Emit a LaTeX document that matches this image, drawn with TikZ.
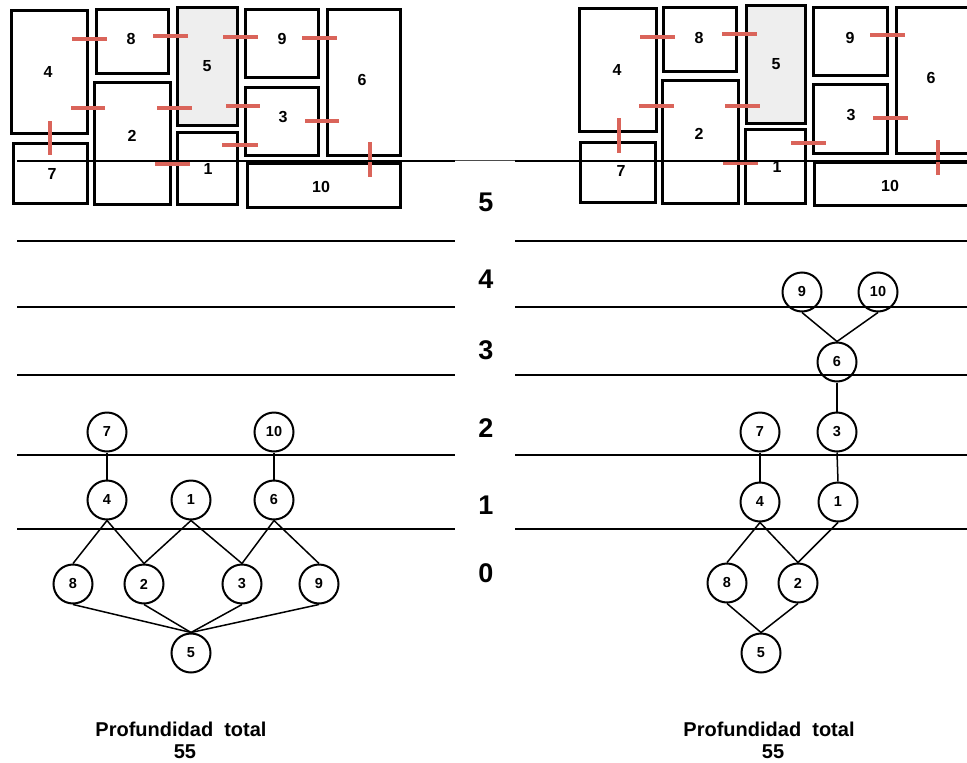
\documentclass[tikz,border=0pt]{standalone}
\usepackage{fontspec}
\setmainfont{Liberation Sans}
\definecolor{doorred}{RGB}{218,100,90}
\definecolor{roomgray}{RGB}{238,238,238}
\tikzset{
 room/.style={draw=black, line width=3pt, inner sep=0pt, outer sep=0pt},
 roomlbl/.style={font=\fontsize{16}{16}\selectfont\bfseries, inner sep=0pt},
 door/.style={draw=doorred, line width=4pt},
 level/.style={line width=2pt},
 tnode/.style={circle, draw, line width=2pt, minimum size=39pt, inner sep=0pt, font=\fontsize{14.5}{14.5}\selectfont\bfseries},
 tedge/.style={line width=1.5pt},
 lvlnum/.style={font=\fontsize{27}{27}\selectfont\bfseries, inner sep=0pt},
 total/.style={font=\fontsize{20}{20}\selectfont\bfseries, inner sep=0pt},
}
% style, name, x1, y1, x2, y2, lx, ly, label
\newcommand{\myroom}[9]{%
 \node[room,#1,minimum width={(#5-#3)*1pt},minimum height={(#6-#4)*1pt}] (#2) at ({(#3+#5)/2},{(#4+#6)/2}) {};
 \node[roomlbl] (#2l) at (#7,#8) {#9};}
\begin{document}
\begin{tikzpicture}[x=1pt,y=-1pt]
\useasboundingbox[fill=white] (0,0) rectangle (967,763);
% ---------- left plan ----------
\myroom{}{L4}{11}{10}{87}{133}{48}{72}{4}
\myroom{}{L8}{96}{9}{168}{73}{131}{39}{8}
\myroom{fill=roomgray}{L5}{177}{7}{237}{125}{207}{66}{5}
\myroom{}{L9}{245}{9}{318}{77}{282}{39}{9}
\myroom{}{L6}{327}{9}{400}{155}{362}{80}{6}
\myroom{}{L2}{94}{82}{170}{204}{132}{136}{2}
\myroom{}{L7}{13}{143}{87}{203}{52}{174}{7}
\myroom{}{L1}{177}{132}{237}{204}{208}{169}{1}
\myroom{}{L3}{245}{87}{318}{155}{283}{117}{3}
\myroom{}{L10}{247}{163}{400}{207}{321}{187}{10}
\draw[door] (72,39) -- (107,39);
\draw[door] (153,36) -- (188,36);
\draw[door] (223,37) -- (258,37);
\draw[door] (302,38) -- (337,38);
\draw[door] (71,108) -- (105,108);
\draw[door] (157,108) -- (192,108);
\draw[door] (226,106) -- (260,106);
\draw[door] (305,121) -- (339,121);
\draw[door] (222,145) -- (258,145);
\draw[door] (155,164) -- (190,164);
\draw[door] (50,121) -- (50,155);
\draw[door] (370,142) -- (370,177);
% ---------- right plan ----------
\myroom{}{R4}{579}{8}{656}{131}{617}{70}{4}
\myroom{}{R8}{663}{7}{736}{71}{699}{38}{8}
\myroom{fill=roomgray}{R5}{746}{5}{805}{123}{776}{64}{5}
\myroom{}{R9}{813}{7}{887}{75}{850}{38}{9}
\myroom{}{R6}{896}{7}{985}{153}{931}{78}{6}
\myroom{}{R2}{662}{80}{738}{203}{699}{134}{2}
\myroom{}{R7}{580}{142}{655}{202}{621}{171}{7}
\myroom{}{R1}{745}{129}{805}{203}{777}{167}{1}
\myroom{}{R3}{813}{84}{887}{153}{851}{115}{3}
\myroom{}{R10}{814}{162}{985}{205}{890}{186}{10}
\draw[door] (640,37) -- (675,37);
\draw[door] (722,34) -- (757,34);
\draw[door] (870,35) -- (905,35);
\draw[door] (639,106) -- (674,106);
\draw[door] (725,106) -- (760,106);
\draw[door] (873,118) -- (908,118);
\draw[door] (791,143) -- (826,143);
\draw[door] (723,163) -- (758,163);
\draw[door] (619,118) -- (619,153);
\draw[door] (938,140) -- (938,175);
% ---------- level lines ----------
\draw[level] (17,161) -- (455,161);
\draw[line width=0.8pt, black!70] (455,160) -- (515,160);
\draw[level] (515,161) -- (967,161);
\foreach \yy in {241,307,375,455,529}{
 \draw[level] (17,\yy) -- (455,\yy);
 \draw[level] (515,\yy) -- (967,\yy);
}
\node[lvlnum] (n5) at (486,202) {5};
\node[lvlnum] (n4) at (486,279) {4};
\node[lvlnum] (n3) at (486,350) {3};
\node[lvlnum] (n2) at (486,428) {2};
\node[lvlnum] (n1) at (486,505) {1};
\node[lvlnum] (n0) at (486,573) {0};
% ---------- left tree ----------
\node[tnode] (a7) at (107,432) {7};
\node[tnode] (a10) at (274,432) {10};
\node[tnode] (a4) at (107,500) {4};
\node[tnode] (a1) at (191,500) {1};
\node[tnode] (a6) at (274,500) {6};
\node[tnode] (a8) at (73,584) {8};
\node[tnode] (a2) at (144,584) {2};
\node[tnode] (a3) at (242,584) {3};
\node[tnode] (a9) at (319,584) {9};
\node[tnode] (a5) at (191,653) {5};
\draw[tedge] (a7.south) -- (a4.north);
\draw[tedge] (a10.south) -- (a6.north);
\draw[tedge] (a4.south) -- (a8.north);
\draw[tedge] (a4.south) -- (a2.north);
\draw[tedge] (a1.south) -- (a2.north);
\draw[tedge] (a1.south) -- (a3.north);
\draw[tedge] (a6.south) -- (a3.north);
\draw[tedge] (a6.south) -- (a9.north);
\draw[tedge] (a8.south) -- (a5.north);
\draw[tedge] (a2.south) -- (a5.north);
\draw[tedge] (a3.south) -- (a5.north);
\draw[tedge] (a9.south) -- (a5.north);
% ---------- right tree ----------
\node[tnode] (b9) at (802,292) {9};
\node[tnode] (b10) at (878,292) {10};
\node[tnode] (b6) at (837,362) {6};
\node[tnode] (b7) at (760,432) {7};
\node[tnode] (b3) at (837,432) {3};
\node[tnode] (b4) at (760,502) {4};
\node[tnode] (b1) at (838,502) {1};
\node[tnode] (b8) at (727,583) {8};
\node[tnode] (b2) at (798,583) {2};
\node[tnode] (b5) at (761,653) {5};
\draw[tedge] (b9.south) -- (b6.north);
\draw[tedge] (b10.south) -- (b6.north);
\draw[tedge] (b6.south) -- (b3.north);
\draw[tedge] (b3.south) -- (b1.north);
\draw[tedge] (b7.south) -- (b4.north);
\draw[tedge] (b4.south) -- (b8.north);
\draw[tedge] (b4.south) -- (b2.north);
\draw[tedge] (b1.south) -- (b2.north);
\draw[tedge] (b8.south) -- (b5.north);
\draw[tedge] (b2.south) -- (b5.north);
% ---------- totals ----------
\node[total] (tl) at (181,729) {Profundidad\ \ total};
\node[total] (tln) at (185,752) {55};
\node[total] (tr) at (769,729) {Profundidad\ \ total};
\node[total] (trn) at (773,752) {55};
\end{tikzpicture}
\end{document}
